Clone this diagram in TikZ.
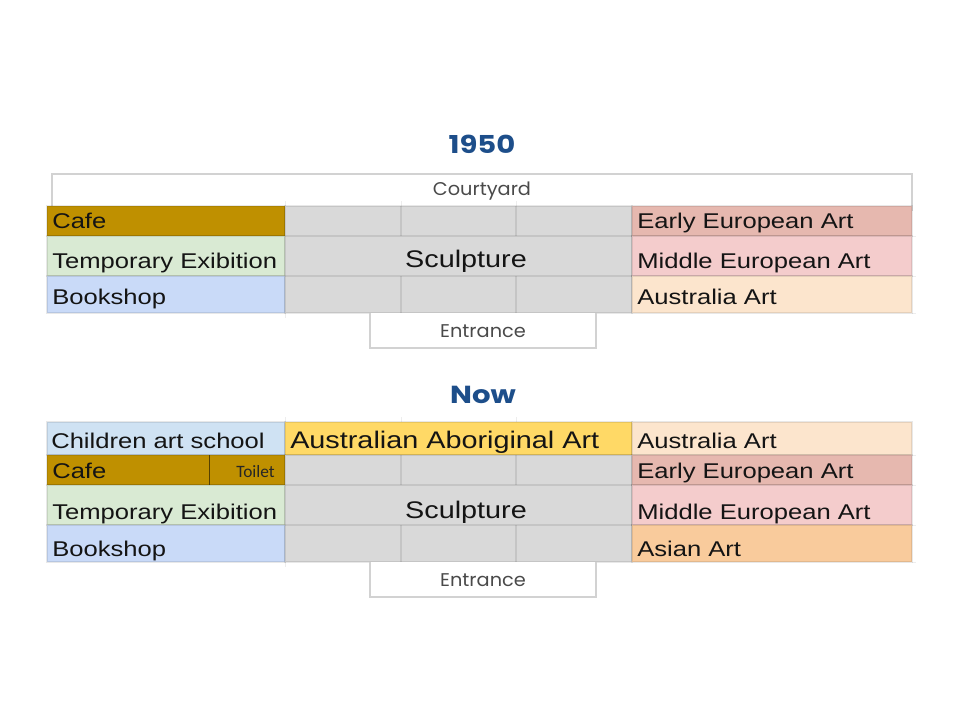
\documentclass[tikz,border=0pt]{standalone}
\usepackage{fontspec}
\setmainfont{Liberation Sans}
\newfontfamily\cellfont{Liberation Sans}[FakeStretch=1.2]
\newfontfamily\geofont{Poppins}[FakeStretch=1.05]
\newfontfamily\headfont{Poppins}[FakeStretch=1.18]
\newfontfamily\notefont{Carlito}

% spreadsheet fill colours
\definecolor{cafe}{HTML}{BF9000}
\definecolor{temp}{HTML}{D9EAD3}
\definecolor{books}{HTML}{C9DAF8}
\definecolor{sculpt}{HTML}{D9D9D9}
\definecolor{early}{HTML}{E6B8AF}
\definecolor{middle}{HTML}{F4CCCC}
\definecolor{austr}{HTML}{FCE5CD}
\definecolor{asian}{HTML}{F9CB9C}
\definecolor{kids}{HTML}{CFE2F3}
\definecolor{abor}{HTML}{FFD966}
\definecolor{titleblue}{HTML}{1D4E8A}
\definecolor{signgray}{HTML}{4A4A4A}
\definecolor{boxgray}{HTML}{D2D2D2}

\begin{document}
\begin{tikzpicture}[x=0.75pt,y=-0.75pt,
  room/.style={fill=#1, draw=black, draw opacity=0.09, line width=0.9pt},
  gridline/.style={draw=black, draw opacity=0.09, line width=0.9pt},
  tick/.style={draw=black, draw opacity=0.07, line width=0.7pt},
  roomtext/.style={font=\cellfont\fontsize{16}{18}\selectfont, text=black!92, inner sep=0pt, anchor=base west},
  bigtext/.style={font=\cellfont\fontsize{18}{20}\selectfont, text=black!92, inner sep=0pt, anchor=base},
  notetext/.style={font=\notefont\fontsize{13}{15}\selectfont, text=black!85, inner sep=0pt, anchor=base east},
  heading/.style={font=\headfont\bfseries\fontsize{18.5}{20}\selectfont, text=titleblue, inner sep=0pt, anchor=base},
  signtext/.style={font=\geofont\fontsize{13.8}{15}\selectfont, text=signgray, inner sep=0pt, anchor=base},
  signbox/.style={draw=boxgray, line width=1.5pt, fill=white}
]
\useasboundingbox (0,0) rectangle (960,720);
\fill[white] (0,0) rectangle (960,720);

%% ---------------- 1950 ----------------
\node[heading] (t1950) at (482,154) {1950};

% courtyard band above the building
\draw[signbox] (52,174) rectangle (912,210);
\node[signtext] (court) at (482,196) {Courtyard};

% left wing
\path[room=cafe]  (47,206) rectangle (285,236);
\path[room=temp]  (47,236) rectangle (285,276);
\path[room=books] (47,276) rectangle (285,313);
% sculpture hall
\path[room=sculpt] (285,206) rectangle (632,313);
\draw[gridline] (285,236) -- (632,236) (285,276) -- (632,276);
\draw[gridline] (401,206) -- (401,236) (516,206) -- (516,236)
                (401,276) -- (401,313) (516,276) -- (516,313);
% right wing
\path[room=early]  (632,206) rectangle (912,236);
\path[room=middle] (632,236) rectangle (912,276);
\path[room=austr]  (632,276) rectangle (912,313);

% faint sheet gridlines outside the rooms
\draw[tick] (285,201) -- (285,206) (401,201) -- (401,206) (516,201) -- (516,206)
            (285,313) -- (285,318) (401,313) -- (401,318) (516,313) -- (516,318)
            (912,236) -- (916,236) (912,276) -- (916,276) (912,313) -- (916,313);

\node[roomtext] (cafeA)   at (52,229) {Cafe};
\node[roomtext] (tempA)   at (52,269) {Temporary Exibition};
\node[roomtext] (booksA)  at (52,305) {Bookshop};
\node[bigtext]  (sculptA) at (466,268) {Sculpture};
\node[roomtext] (earlyA)  at (637,229) {Early European Art};
\node[roomtext] (middleA) at (637,269) {Middle European Art};
\node[roomtext] (austrA)  at (637,305) {Australia Art};

% entrance
\draw[signbox] (370,313) -- (370,348) -- (596,348) -- (596,313);
\node[signtext] (entA) at (483,337) {Entrance};

%% ---------------- Now ----------------
\node[heading] (tnow) at (483,403) {Now};

% top row
\path[room=kids]  (47,422) rectangle (285,455);
\path[room=abor]  (285,422) rectangle (632,455);
\path[room=austr] (632,422) rectangle (912,455);
% left wing
\path[room=cafe]  (47,455) rectangle (285,485);
\draw[draw=black!55!cafe, line width=0.8pt] (209.5,455) -- (209.5,485);
\path[room=temp]  (47,485) rectangle (285,525);
\path[room=books] (47,525) rectangle (285,562);
% sculpture hall
\path[room=sculpt] (285,455) rectangle (632,562);
\draw[gridline] (285,485) -- (632,485) (285,525) -- (632,525);
\draw[gridline] (401,455) -- (401,485) (516,455) -- (516,485)
                (401,525) -- (401,562) (516,525) -- (516,562);
% right wing
\path[room=early]  (632,455) rectangle (912,485);
\path[room=middle] (632,485) rectangle (912,525);
\path[room=asian]  (632,525) rectangle (912,562);

\draw[tick] (285,417) -- (285,422) (401,417) -- (401,422) (516,417) -- (516,422)
            (285,562) -- (285,567) (401,562) -- (401,567) (516,562) -- (516,567)
            (912,455) -- (916,455) (912,485) -- (916,485) (912,525) -- (916,525)
            (912,562) -- (916,562);

\node[roomtext] (kidsB)   at (51,448) {Children art school};
\node[bigtext, anchor=base west] (aborB) at (290,448) {Australian Aboriginal Art};
\node[roomtext] (austrB)  at (637,448) {Australia Art};
\node[roomtext] (cafeB)   at (52,478) {Cafe};
\node[notetext] (toiletB) at (275,477) {Toilet};
\node[roomtext] (tempB)   at (52,519) {Temporary Exibition};
\node[roomtext] (booksB)  at (52,556) {Bookshop};
\node[bigtext]  (sculptB) at (466,518) {Sculpture};
\node[roomtext] (earlyB)  at (637,478) {Early European Art};
\node[roomtext] (middleB) at (637,519) {Middle European Art};
\node[roomtext] (asianB)  at (637,556) {Asian Art};

% entrance
\draw[signbox] (370,562) -- (370,597) -- (596,597) -- (596,562);
\node[signtext] (entB) at (483,586) {Entrance};
\end{tikzpicture}
\end{document}
